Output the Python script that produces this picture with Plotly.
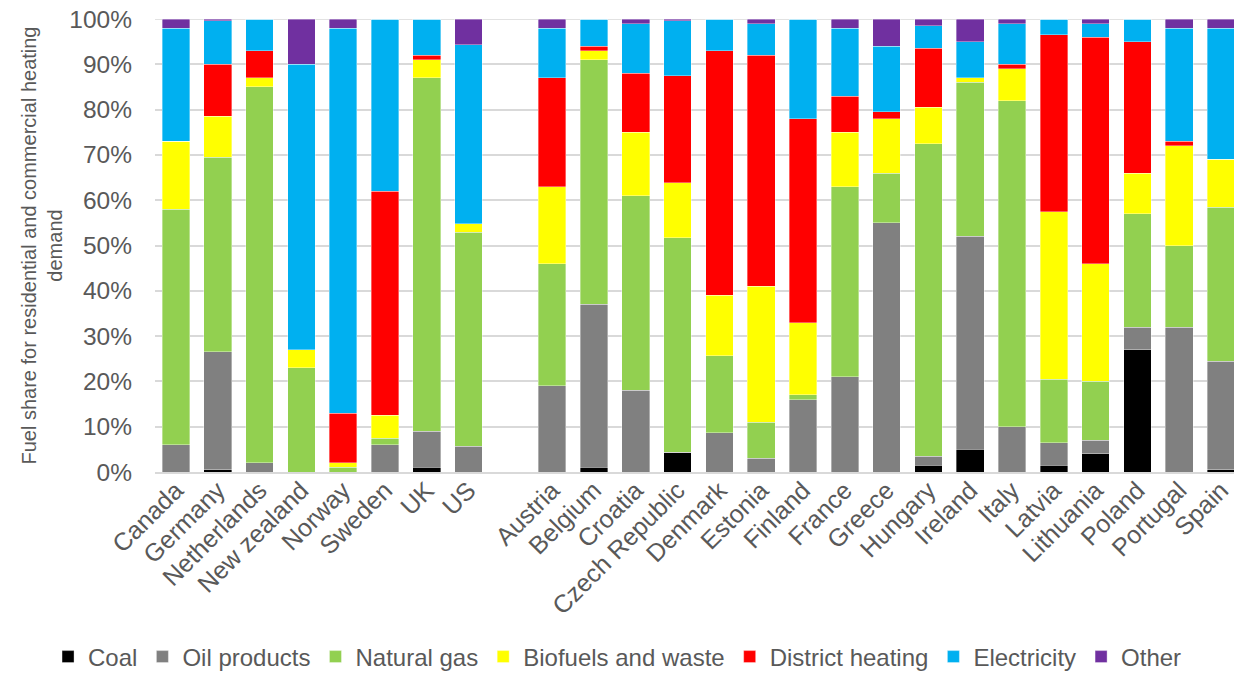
import plotly.graph_objects as go

# ---- data (percent of heating demand) ----
group1 = ["Canada", "Germany", "Netherlands", "New zealand", "Norway", "Sweden", "UK", "US"]
group2 = ["Austria", "Belgium", "Croatia", "Czech Republic", "Denmark", "Estonia", "Finland",
          "France", "Greece", "Hungary", "Ireland", "Italy", "Latvia", "Lithuania", "Poland",
          "Portugal", "Spain"]

coal = [0, 0.5, 0, 0, 0, 0, 1, 0,
        0, 1, 0, 4.4, 0, 0, 0, 0, 0, 1.5, 5, 0, 1.5, 4, 27, 0, 0.5]
oil_products = [6, 26, 2, 0, 0, 6, 8, 5.7,
                19, 36, 18, 0, 8.7, 3, 16, 21, 55, 2, 47, 10, 5, 3, 5, 32, 24]
natural_gas = [52, 43, 83, 23, 1, 1.5, 78, 47.2,
               27, 54, 43, 47.3, 17, 8, 1, 42, 11, 69, 34, 72, 14, 13, 25, 18, 34]
biofuels = [15, 9, 2, 4, 1, 5, 4, 1.9,
            17, 2, 14, 12.1, 13.3, 30, 16, 12, 12, 8, 1, 7, 37, 26, 9, 22, 10.5]
district_heating = [0, 11.5, 6, 0, 11, 49.5, 1, 0,
                    24, 1, 13, 23.7, 54, 51, 45, 8, 1.5, 13, 0, 1, 39, 50, 29, 1, 0]
electricity = [25, 9.6, 7, 63, 85, 38, 8, 39.5,
               11, 6, 11, 12.1, 7, 7, 22, 15, 14.5, 5, 8, 9, 3.5, 3, 5, 25, 29]
other = [2, 0.4, 0, 10, 2, 0, 0, 5.7,
         2, 0, 1, 0.4, 0, 1, 0, 2, 6, 1.5, 5, 1, 0, 1, 0, 2, 2]

y_ticks = [0, 10, 20, 30, 40, 50, 60, 70, 80, 90, 100]
y_tick_labels = ["0%", "10%", "20%", "30%", "40%", "50%", "60%", "70%", "80%", "90%", "100%"]

series = [
    ("Coal", coal, "#000000"),
    ("Oil products", oil_products, "#808080"),
    ("Natural gas", natural_gas, "#92D050"),
    ("Biofuels and waste", biofuels, "#FFFF00"),
    ("District heating", district_heating, "#FF0000"),
    ("Electricity", electricity, "#00B0F0"),
    ("Other", other, "#7030A0"),
]

# positions: one empty slot between the two country groups
countries = group1 + group2
xpos = list(range(len(group1))) + [len(group1) + 1 + i for i in range(len(group2))]

FONT = "Liberation Sans, Arial, sans-serif"
TXT = "#595959"
GRID = "#d9d9d9"

fig = go.Figure()
for name, vals, col in series:
    fig.add_trace(go.Bar(
        x=xpos, y=vals, name=name,
        marker=dict(color=col, line=dict(width=0.8, color="rgba(255,255,255,0.45)")),
        width=0.66,
    ))

# top gridline (plotly drops the grid line that sits on the range edge)
fig.add_shape(type="line", xref="paper", x0=0, x1=1, yref="y",
              y0=y_ticks[-1], y1=y_ticks[-1], line=dict(color=GRID, width=1.5), layer="below")

# the page body adds an 8px margin, so the figure is sized to fit inside the window
fig.update_layout(
    barmode="stack",
    width=1234, height=672,
    margin=dict(l=147, r=0, t=11, b=208),
    paper_bgcolor="white", plot_bgcolor="white",
    font=dict(family=FONT, color=TXT),
    legend=dict(
        orientation="h", xref="paper", yref="paper",
        x=-0.0984, xanchor="left", y=-0.4084, yanchor="middle",
        font=dict(size=24, color=TXT, family=FONT),
        itemwidth=30, traceorder="normal",
    ),
    showlegend=True,
)
fig.update_xaxes(
    tickmode="array", tickvals=xpos, ticktext=countries,
    tickangle=-45, tickfont=dict(size=25, color=TXT, family=FONT),
    range=[-0.5, xpos[-1] + 0.5],
    showgrid=False, zeroline=False,
    showline=True, linecolor=GRID, linewidth=1.5,
    ticks="", automargin=False, ticklabelstandoff=-8,
    ticklabeloverflow="allow",
)
fig.update_yaxes(
    range=[0, 100], tickmode="array", tickvals=y_ticks, ticktext=y_tick_labels,
    tickfont=dict(size=24.5, color=TXT, family=FONT),
    showgrid=True, gridcolor=GRID, gridwidth=1.5,
    zeroline=False, showline=False, ticks="",
    ticklabelstandoff=22, automargin=False, ticklabeloverflow="allow",
    title=dict(text="Fuel share for residential and commercial heating<br>demand",
               font=dict(size=20, color=TXT, family=FONT), standoff=1),
)

fig.write_html("out.html")
